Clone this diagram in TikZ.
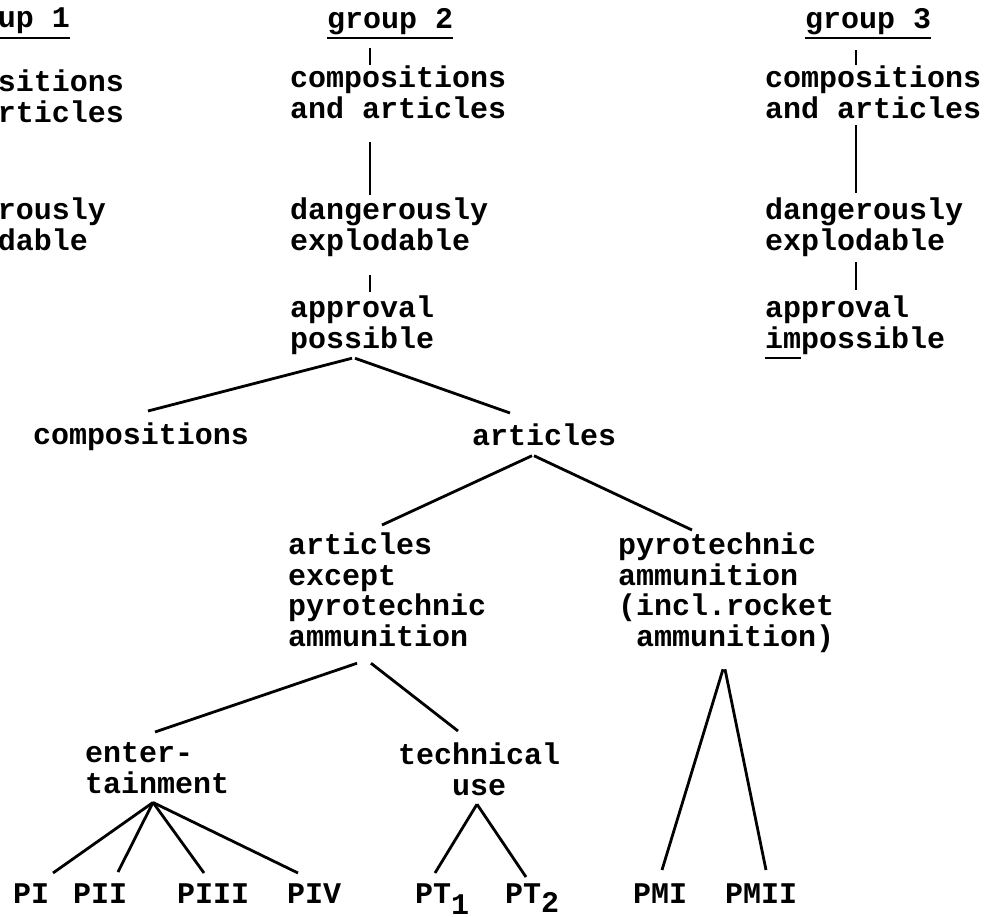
\documentclass[tikz,border=0pt]{standalone}
\usepackage{fontspec}
\newfontfamily\typewr{Liberation Mono}
\usetikzlibrary{calc}
\newcommand\tstrut{\rule[-7pt]{0pt}{27pt}}
\newsavebox\ulbox
\newcommand\typeul[1]{\sbox\ulbox{#1}\rlap{\smash{\rule[-11pt]{\wd\ulbox}{2pt}}}\usebox\ulbox}

\begin{document}
\begin{tikzpicture}[
        x=1pt, y=-1pt,
        term/.style={anchor=north west, inner sep=0pt, outer sep=0pt, align=left,
            font=\typewr\bfseries\fontsize{30}{30.5}\selectfont,
            execute at begin node=\tstrut, execute at end node=\tstrut},
        link/.style={line width=2.8pt}
    ]
        \useasboundingbox (0,0) rectangle (991,917);
        \clip (0,0) rectangle (991,917);

        \node[term] (g1) at (-56,8) {\typeul{group 1}};
        \node[term] (c1) at (-92,70) {compositions\\and articles};
        \node[term] (d1) at (-92,198) {dangerously\\explodable};

        \node[term] (g2) at (327,8) {\typeul{group 2}};
        \node[term] (c2) at (290,66) {compositions\\and articles};
        \node[term] (d2) at (290,198) {dangerously\\explodable};
        \node[term] (a2) at (290,296) {approval\\possible};

        \node[term] (g3) at (805,8) {\typeul{group 3}};
        \node[term] (c3) at (765,66) {compositions\\and articles};
        \node[term] (d3) at (765,198) {dangerously\\explodable};
        \node[term] (a3) at (765,296) {approval\\\typeul{im}possible};

        \node[term] (comp) at (33,423) {compositions};
        \node[term] (art) at (472,424) {articles};
        \node[term] (artx) at (288,533) {articles\\except\\pyrotechnic\\ammunition};
        \node[term] (pyro) at (618,533) {pyrotechnic\\ammunition\\(incl.rocket\\\hspace*{.6em}ammunition)};
        \node[term] (ent) at (85,743) {enter-\\tainment};
        \node[term, align=center] (tech) at (398,743) {technical\\use};
        \node[term] (p1) at (13,883) {PI};
        \node[term] (p2) at (73,883) {PII};
        \node[term] (p3) at (177,883) {PIII};
        \node[term] (p4) at (287,883) {PIV};
        \node[term] (pt1) at (415,883) {PT\raisebox{-11pt}{1}};
        \node[term] (pt2) at (505,883) {PT\raisebox{-9pt}{2}};
        \node[term] (pm1) at (633,883) {PMI};
        \node[term] (pm2) at (725,883) {PMII};

        \draw[link] ($(g2.south west)+(43,13)$) -- ($(c2.north west)+(80,-1)$);
        \draw[link] ($(c2.south west)+(80,17)$) -- ($(d2.north west)+(80,-3)$);
        \draw[link] ($(d2.south west)+(80,18)$) -- ($(a2.north west)+(80,-4)$);

        \draw[link] ($(g3.south west)+(51,15)$) -- ($(c3.north west)+(91,-1)$);
        \draw[link] ($(c3.south west)+(91,0)$) -- ($(d3.north west)+(91,-5)$);
        \draw[link] ($(d3.south west)+(91,5)$) -- ($(a3.north west)+(91,-6)$);

        \draw[link] ($(a2.south west)+(62,3)$) -- ($(comp.north west)+(115,-12)$);
        \draw[link] ($(a2.south west)+(65,3)$) -- ($(art.north west)+(38,-11)$);
        \draw[link] ($(art.south west)+(60,3)$) -- ($(artx.north west)+(94,-8)$);
        \draw[link] ($(art.south west)+(62,3)$) -- ($(pyro.north west)+(74,-3)$);
        \draw[link] ($(artx.south west)+(69,10)$) -- ($(ent.north west)+(70,-11)$);
        \draw[link] ($(artx.south west)+(83,10)$) -- ($(tech.north west)+(60,-12)$);

        \draw[link] ($(ent.south west)+(68,2)$) -- ($(p1.north west)+(40,-10)$);
        \draw[link] ($(ent.south west)+(68,2)$) -- ($(p2.north west)+(45,-11)$);
        \draw[link] ($(ent.south west)+(68,2)$) -- ($(p3.north west)+(27,-10)$);
        \draw[link] ($(ent.south west)+(68,2)$) -- ($(p4.north west)+(11,-10)$);
        \draw[link] ($(tech.south west)+(79,2)$) -- ($(pt1.north west)+(20,-10)$);
        \draw[link] ($(tech.south west)+(79,2)$) -- ($(pt2.north west)+(21,-6)$);
        \draw[link] ($(pyro.south west)+(105,16)$) -- ($(pm1.north west)+(29,-13)$);
        \draw[link] ($(pyro.south west)+(107,16)$) -- ($(pm2.north west)+(41,-13)$);
\end{tikzpicture}
\end{document}
